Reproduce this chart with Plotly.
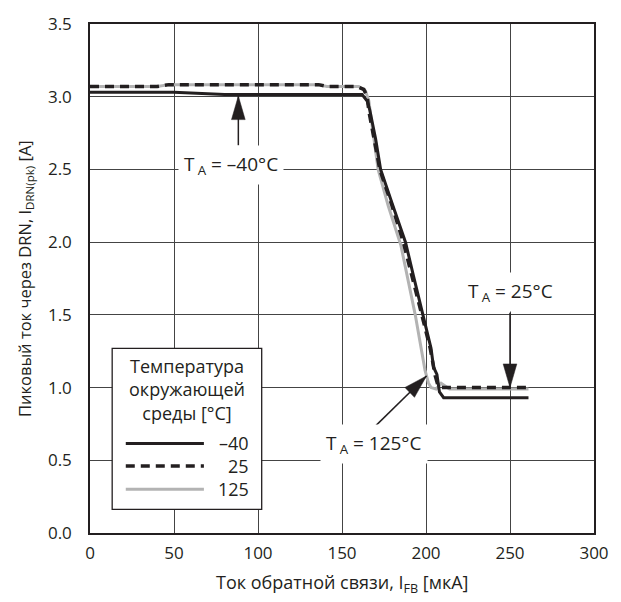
import math
import plotly.graph_objects as go

# ---- data ----
x_m40 = [0, 50, 80, 162, 165, 166.5, 170, 173, 180, 187.8, 192.5, 198.4, 203, 204.5, 206.5, 208, 210.5, 261]
y_m40 = [3.03, 3.03, 3.015, 3.015, 2.97, 2.91, 2.71, 2.5, 2.26, 2.0, 1.77, 1.5, 1.27, 1.14, 1.09, 0.97, 0.93, 0.93]

x_25 = [0, 40, 47, 136, 141, 159, 163, 165, 166, 169, 172.5, 179.5, 186.5, 197.5, 202.5, 205.5, 207, 209, 261]
y_25 = [3.07, 3.07, 3.083, 3.083, 3.07, 3.07, 3.05, 3.0, 2.9, 2.72, 2.5, 2.26, 2.0, 1.5, 1.27, 1.08, 1.02, 1.0, 1.0]

x_125 = [0, 40, 47, 136, 141, 160, 164, 166, 167, 171.5, 177.5, 185, 193.6, 199.4, 201.5, 203, 206, 209, 214, 261]
y_125 = [3.07, 3.07, 3.083, 3.083, 3.07, 3.07, 3.04, 2.97, 2.88, 2.5, 2.25, 1.98, 1.5, 1.12, 1.03, 1.0, 0.99, 1.03, 0.99, 0.99]

series_names = ["\u201340", "25", "125"]
legend_title = "Температура<br>окружающей<br>среды [°C]"

x_ticks = [0, 50, 100, 150, 200, 250, 300]
y_ticks = [0.0, 0.5, 1.0, 1.5, 2.0, 2.5, 3.0, 3.5]

x_title = "Ток обратной связи, I<sub>FB</sub> [мкА]"
y_title = "Пиковый ток через DRN, I<sub>DRN(pk)</sub> [A]"

FONT = "Open Sans"
INK = "#231f20"
GRAY = "#b3b3b3"

W, H = 621, 602
ML, MR, MT, MB = 90, 15, 16, 69
X_RANGE = [0, 300]
Y_RANGE = [0, 3.5]
px_x = (W - ML - MR) / (X_RANGE[1] - X_RANGE[0])
px_y = (H - MT - MB) / (Y_RANGE[1] - Y_RANGE[0])

fig = go.Figure()
fig.add_trace(go.Scatter(x=x_125, y=y_125, mode="lines", name=series_names[2],
                         line=dict(color=GRAY, width=3), showlegend=False))
fig.add_trace(go.Scatter(x=x_m40, y=y_m40, mode="lines", name=series_names[0],
                         line=dict(color=INK, width=3), showlegend=False))
fig.add_trace(go.Scatter(x=x_25, y=y_25, mode="lines", name=series_names[1],
                         line=dict(color=INK, width=3.5, dash="9px,6px"), showlegend=False))

axis_common = dict(showline=True, mirror=True, linecolor=INK, linewidth=1.5,
                   showgrid=True, gridcolor="#444444", gridwidth=1, zeroline=False,
                   ticks="", tickfont=dict(family=FONT, size=17, color=INK))

fig.update_layout(
    width=W, height=H,
    margin=dict(l=ML, r=MR, t=MT, b=MB),
    paper_bgcolor="white", plot_bgcolor="white",
    xaxis=dict(range=X_RANGE, tickvals=x_ticks, ticklabelstandoff=4, **axis_common),
    yaxis=dict(range=Y_RANGE, tickvals=y_ticks, tickformat=".1f", ticklabelstandoff=13, **axis_common),
    showlegend=False,
)

# axis titles
fig.add_annotation(text=x_title, xref="paper", yref="paper", x=0.5, y=-0.1,
                   showarrow=False, font=dict(family=FONT, size=18, color=INK),
                   xanchor="center", yanchor="middle")
fig.add_annotation(text=y_title, xref="paper", yref="paper", x=-0.13, y=0.5,
                   showarrow=False, textangle=-90, font=dict(family=FONT, size=16.5, color=INK),
                   xanchor="center", yanchor="middle")

# ---- manual legend ----
fig.add_shape(type="rect", xref="x", yref="y", x0=13.2, x1=102.2, y0=0.162, y1=1.27,
              fillcolor="white", line=dict(color=INK, width=1.3), layer="above")
fig.add_annotation(text=legend_title, xref="x", yref="y", x=57.7, y=0.99, showarrow=False,
                   font=dict(family=FONT, size=18, color=INK), align="center")
legend_y = [0.616, 0.46, 0.30]
legend_styles = [dict(color=INK, width=3), dict(color=INK, width=3.5, dash="9px,6px"),
                 dict(color=GRAY, width=3)]
for name, yy, st in zip(series_names, legend_y, legend_styles):
    fig.add_shape(type="line", xref="x", yref="y", x0=21.3, x1=67.8, y0=yy, y1=yy,
                  line=st, layer="above")
    fig.add_annotation(text=name, xref="x", yref="y", x=96, y=yy, xanchor="right",
                       showarrow=False, font=dict(family=FONT, size=18, color=INK))

# ---- temperature callouts ----
def label(text, x, y):
    fig.add_annotation(text=text, xref="x", yref="y", x=x, y=y, showarrow=False,
                       bgcolor="white", borderpad=5,
                       font=dict(family=FONT, size=19, color=INK))

def arrow(x_tail, y_tail, x_tip, y_tip, head_len=24, head_half=7):
    fig.add_shape(type="line", xref="x", yref="y", x0=x_tail, y0=y_tail, x1=x_tip, y1=y_tip,
                  line=dict(color=INK, width=1.5), layer="above")
    dx = (x_tip - x_tail) * px_x
    dy = (y_tip - y_tail) * px_y
    n = math.hypot(dx, dy)
    ux, uy = dx / n, dy / n
    bx, by = -ux * head_len, -uy * head_len
    p1 = (x_tip + (bx - uy * head_half) / px_x, y_tip + (by + ux * head_half) / px_y)
    p2 = (x_tip + (bx + uy * head_half) / px_x, y_tip + (by - ux * head_half) / px_y)
    path = f"M {x_tip},{y_tip} L {p1[0]},{p1[1]} L {p2[0]},{p2[1]} Z"
    fig.add_shape(type="path", xref="x", yref="y", path=path, fillcolor=INK,
                  line=dict(color=INK, width=0.5), layer="above")

TA = "T\u2009<sub>A</sub>"
label(TA + " = \u201340°C", 84, 2.53)
arrow(88.3, 2.665, 88.3, 3.005)
label(TA + " = 25°C", 250, 1.66)
arrow(250, 1.515, 250, 1.0)
label(TA + " = 125°C", 169, 0.615)
arrow(170.3, 0.74, 200.3, 1.08)

fig.write_html("out.html")
